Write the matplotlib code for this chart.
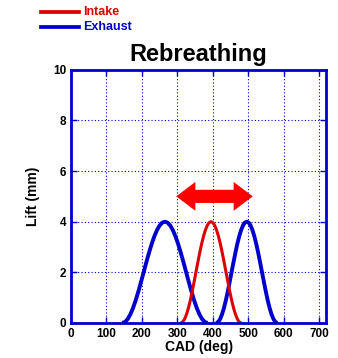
import matplotlib
matplotlib.use("Agg")
import matplotlib.pyplot as plt
from matplotlib.patches import Polygon

plt.rcParams['font.family'] = ['Liberation Sans', 'DejaVu Sans']
plt.rcParams['font.weight'] = 'bold'

# Data
bump = [0, 0.038, 0.152, 0.337, 0.586, 0.889, 1.235, 1.610, 2.0, 2.390, 2.765, 3.111,
        3.414, 3.663, 3.848, 3.962, 4.0, 3.962, 3.848, 3.663, 3.414, 3.111, 2.765, 2.390,
        2.0, 1.610, 1.235, 0.889, 0.586, 0.337, 0.152, 0.038, 0]
exh1_cad = [145, 152.5, 160, 167.5, 175, 182.5, 190, 197.5, 205, 212.5, 220, 227.5, 235,
            242.5, 250, 257.5, 265, 272.5, 280, 287.5, 295, 302.5, 310, 317.5, 325, 332.5,
            340, 347.5, 355, 362.5, 370, 377.5, 385]
exh1_lift = bump
int_cad = [310, 315.3, 320.6, 325.9, 331.3, 336.6, 341.9, 347.2, 352.5, 357.8, 363.1, 368.4,
           373.8, 379.1, 384.4, 389.7, 395, 400.3, 405.6, 410.9, 416.3, 421.6, 426.9, 432.2,
           437.5, 442.8, 448.1, 453.4, 458.8, 464.1, 469.4, 474.7, 480]
int_lift = bump
exh2_cad = [410, 415.4, 420.8, 426.1, 431.5, 436.9, 442.3, 447.6, 453, 458.4, 463.8, 469.1,
            474.5, 479.9, 485.3, 490.6, 496, 501.4, 506.8, 512.1, 517.5, 522.9, 528.3, 533.6,
            539, 544.4, 549.8, 555.1, 560.5, 565.9, 571.3, 576.6, 582]
exh2_lift = bump
x_ticks = [0, 100, 200, 300, 400, 500, 600, 700]
y_ticks = [0, 2, 4, 6, 8, 10]
arrow_start, arrow_end, arrow_y = 297, 513, 5.0

blue = '#0000cc'
red = '#dd0000'

fig = plt.figure(figsize=(3.38, 3.58), dpi=100)
ax = fig.add_axes([0.210, 0.098, 0.755, 0.707])

ax.plot(exh1_cad, exh1_lift, color=blue, lw=2.8, solid_capstyle='butt')
ax.plot(exh2_cad, exh2_lift, color=blue, lw=2.8, solid_capstyle='butt')
ax.plot(int_cad, int_lift, color=red, lw=2.2, solid_capstyle='butt')

# double-headed arrow (sizes: shaft half-height, head half-height, head length)
sh, hh, hl = 0.26, 0.57, 54
pts = [(arrow_start, arrow_y),
       (arrow_start + hl, arrow_y + hh),
       (arrow_start + hl, arrow_y + sh),
       (arrow_end - hl, arrow_y + sh),
       (arrow_end - hl, arrow_y + hh),
       (arrow_end, arrow_y),
       (arrow_end - hl, arrow_y - hh),
       (arrow_end - hl, arrow_y - sh),
       (arrow_start + hl, arrow_y - sh),
       (arrow_start + hl, arrow_y - hh)]
ax.add_patch(Polygon(pts, closed=True, facecolor='#ff0000', edgecolor='none', zorder=5))

ax.set_xlim(0, 720)
ax.set_ylim(0, 10)
ax.set_xticks(x_ticks)
ax.set_yticks(y_ticks)
ax.grid(True, color=blue, linestyle=(0, (1, 2)), lw=0.8)
for s in ax.spines.values():
    s.set_color(blue)
    s.set_linewidth(2)
ax.tick_params(direction='in', length=4, color=blue, labelsize=8.5, width=1,
               top=True, right=True)
for lab in ax.get_xticklabels() + ax.get_yticklabels():
    lab.set_fontweight('bold')

ax.set_xlabel('CAD (deg)', fontsize=10, fontweight='bold', labelpad=0)
ax.set_ylabel('Lift (mm)', fontsize=10, fontweight='bold', labelpad=9)
ax.set_title('Rebreathing', fontsize=17, fontweight='bold', pad=6)

# Legend drawn at top-left of the figure
fig.lines.append(plt.Line2D([41/338, 79/338], [1-12/358, 1-12/358], color=red, lw=2.7, transform=fig.transFigure))
fig.lines.append(plt.Line2D([41/338, 79/338], [1-27/358, 1-27/358], color=blue, lw=2.7, transform=fig.transFigure))
fig.text(83/338, 1-12/358, 'Intake', color=red, fontsize=9, fontweight='bold', va='center')
fig.text(83/338, 1-27/358, 'Exhaust', color=blue, fontsize=9, fontweight='bold', va='center')

fig.savefig('out.png', dpi=100)
